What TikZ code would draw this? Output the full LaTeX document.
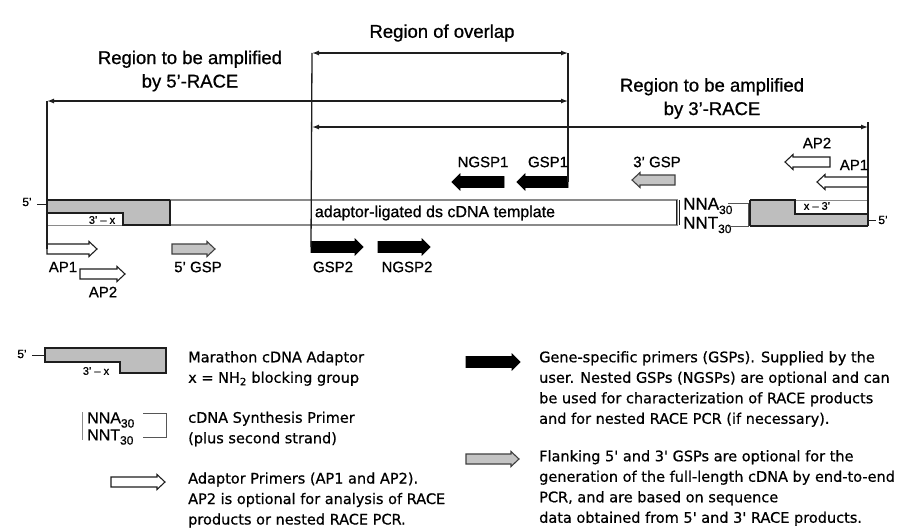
\documentclass[tikz,border=0pt]{standalone}
\usepackage{fontspec}
\setmainfont{Liberation Sans}[FakeBold=0.8]
\newfontfamily\legfont{DejaVu Sans}[FakeBold=0.6]
\usetikzlibrary{arrows.meta}
\definecolor{adgray}{HTML}{BEBEBE}
\definecolor{pgray}{HTML}{C4C4C4}
\definecolor{ink}{HTML}{1E1E1E}
\definecolor{tline}{HTML}{8A8A8A}
\newcommand\mysub[1]{\raisebox{-0.5ex}{\fontsize{12}{12}\selectfont #1}}
% right-pointing primer: name, x-tail, x-tip, y, half shaft, half head, style
\newcommand\rprim[7]{%
  \draw[#7] (#2,#4-#5) -- (#3-8,#4-#5) -- (#3-8,#4-#6) -- (#3,#4) -- (#3-8,#4+#6)
     -- (#3-8,#4+#5) -- (#2,#4+#5) -- cycle;
  \coordinate (#1-tail) at (#2,#4); \coordinate (#1-tip) at (#3,#4);}
% left-pointing primer: name, x-tail, x-tip, y, half shaft, half head, style
\newcommand\lprim[7]{%
  \draw[#7] (#2,#4-#5) -- (#3+8,#4-#5) -- (#3+8,#4-#6) -- (#3,#4) -- (#3+8,#4+#6)
     -- (#3+8,#4+#5) -- (#2,#4+#5) -- cycle;
  \coordinate (#1-tail) at (#2,#4); \coordinate (#1-tip) at (#3,#4);}
\begin{document}
\begin{tikzpicture}[x=1pt,y=-1pt,
  ln/.style={draw=ink, line width=1.3pt},
  dim/.style={draw=ink, line width=1.3pt, {Latex[length=7pt,width=5pt]}-{Latex[length=7pt,width=5pt]}},
  wp/.style={draw=ink, line width=1.1pt, fill=white, line join=miter},
  gp/.style={draw=ink!85, line width=1.1pt, fill=pgray, line join=miter},
  bp/.style={draw=black, line width=0.8pt, fill=black, line join=miter},
  big/.style={inner sep=0pt, align=center, font=\fontsize{18.5}{23.5}\selectfont},
  lab/.style={inner sep=0pt, font=\fontsize{15}{18}\selectfont},
  small/.style={inner sep=0pt, font=\fontsize{11}{12}\selectfont},
  legtext/.style={inner sep=0pt, anchor=west, align=left, font=\legfont\fontsize{14.5}{20.5}\selectfont},
  nn/.style={inner sep=0pt, anchor=west, font=\fontsize{17}{18}\selectfont}]
\useasboundingbox[fill=white] (0,0) rectangle (909,530);

% ---------- titles ----------
\node[big] (tover) at (442,33) {Region of overlap};
\node[big] (t5) at (190,71) {Region to be amplified\\by 5'-RACE};
\node[big] (t3) at (712,98.5) {Region to be amplified\\by 3'-RACE};

% ---------- dimension ends ----------
\coordinate (o1) at (312,53);
\coordinate (o2) at (568,53);
\coordinate (a1) at (47,101);
\coordinate (a2) at (568,101);
\coordinate (b1) at (312,127);
\coordinate (b2) at (868,127);

% ---------- template and adaptors ----------
\draw[tline, line width=1.2pt, fill=white] (170,200) rectangle (677,225);
\draw[tline, line width=0.8pt] (47,225) -- (123,225);
\draw[tline, line width=0.8pt] (795,200) -- (868,200);
\node[inner sep=0pt, font=\fontsize{16}{18}\selectfont] (tmpl) at (435,213) {adaptor-ligated ds cDNA template};
\draw[ink, line width=1pt] (676,200) -- (676,225);
\draw[ink, line width=1pt] (679.5,200) -- (679.5,225);

% left adaptor
\fill[adgray] (47,200) -- (170,200) -- (170,225) -- (123,225) -- (123,213) -- (47,213) -- cycle;
\draw[ink, line width=1.1pt] (47,200) -- (170,200);
\draw[ink, line width=1.1pt] (47,213) -- (123,213) -- (123,225) -- (170,225);
\draw[ink, line width=1.4pt] (170,199.5) -- (170,225.5);
\node[small] (l3x) at (102,220) {3' -- x};
\node[inner sep=0pt, font=\fontsize{12}{12}\selectfont] (l5) at (27,202) {5'};
\draw[ink, line width=1pt] (37,204) -- (47,204);

% right adaptor
\fill[adgray] (750,200) -- (795,200) -- (795,214) -- (868,214) -- (868,226) -- (750,226) -- cycle;
\draw[ink, line width=1.1pt] (750,200) -- (795,200) -- (795,214) -- (868,214);
\draw[ink, line width=1.1pt] (750,226) -- (868,226);
\draw[ink, line width=1.1pt] (750,200) -- (750,226);
\node[small] (rx3) at (817,206) {x -- 3'};
\draw[ink, line width=1pt] (868,220) -- (876,220);
\node[inner sep=0pt, font=\fontsize{12}{12}\selectfont] (r5) at (883,220) {5'};

% NNA / NNT bracket
\node[nn] (nna) at (683,206) {NNA\mysub{30}};
\node[nn] (nnt) at (683,225) {NNT\mysub{30}};
\draw[ink!75, line width=1pt] (728,203) -- (748,203) -- (748,226) -- (728,226);

% ---------- dimension arrows ----------
\draw[dim] (o1) -- (o2);
\draw[dim] (a1) -- (a2);
\draw[dim] (b1) -- (b2);

% ---------- primers ----------
\rprim{ap1L}{47}{97}{249}{5}{7.5}{wp}
\rprim{ap2L}{80}{125}{274}{5}{7.5}{wp}
\rprim{gsp5}{172}{215}{249}{5}{7.5}{gp}
\rprim{gsp2}{311}{363}{247}{5.5}{8}{bp}
\rprim{ngsp2}{378}{430}{247}{5.5}{8}{bp}
\lprim{ngsp1}{504}{452}{182}{5.5}{8}{bp}
\lprim{gsp1}{568}{517}{182}{5.5}{8}{bp}
\lprim{gsp3}{675}{632}{180}{5}{7.5}{gp}
\lprim{ap2R}{830}{785}{162}{5}{7.5}{wp}
\lprim{ap1R}{868}{817}{182}{5}{7.5}{wp}

% ---------- vertical connectors ----------
\draw[ln] (a1) -- (ap1L-tail);
\draw[ln] (o1) -- (gsp2-tail);
\draw[ln] (o2) -- (gsp1-tail);
\coordinate (b2top) at (868,122);
\coordinate (b2bot) at (868,226);
\draw[ln] (b2top) -- (b2bot);

% primer labels
\node[lab] (lap1) at (63,267) {AP1};
\node[lab] (lap2) at (103,292) {AP2};
\node[lab] (lgsp5) at (198,267) {5' GSP};
\node[lab] (lgsp2) at (333,267) {GSP2};
\node[lab] (lngsp2) at (407,267) {NGSP2};
\node[lab] (lngsp1) at (483,162) {NGSP1};
\node[lab] (lgsp1) at (548,162) {GSP1};
\node[lab] (lgsp3) at (657,162) {3' GSP};
\node[lab] (lap2r) at (817,143) {AP2};
\node[lab] (lap1r) at (854,165) {AP1};

% ---------- legend ----------
\fill[adgray] (45,348) -- (166,348) -- (166,373) -- (120,373) -- (120,362) -- (45,362) -- cycle;
\draw[ink, line width=1.1pt] (45,362) -- (45,348) -- (166,348) -- (166,373) -- (120,373) -- (120,362) -- cycle;
\node[inner sep=0pt, font=\fontsize{12}{12}\selectfont] (g5) at (22,354) {5'};
\draw[ink, line width=1pt] (32,355) -- (45,355);
\node[small] (g3x) at (96,371) {3' -- x};

\draw[tline, line width=1pt] (82,412) -- (82,440);
\node[nn, font=\fontsize{16}{17}\selectfont] (gnna) at (87,420) {NNA\mysub{30}};
\node[nn, font=\fontsize{16}{17}\selectfont] (gnnt) at (87,437) {NNT\mysub{30}};
\draw[ink!75, line width=1pt] (143,413) -- (166,413) -- (166,437) -- (143,437);

\rprim{legw}{111}{165}{482}{5}{7.5}{wp}
\rprim{legb}{466}{520}{362}{5.5}{8}{bp}
\rprim{legg}{466}{519}{459}{5}{7.5}{gp}

\node[legtext] (tmar) at (188,368.5) {Marathon cDNA Adaptor\\x = NH\textsubscript{2} blocking group};
\node[legtext] (tsyn) at (188,429) {cDNA Synthesis Primer\\(plus second strand)};
\node[legtext] (tap) at (188,500) {Adaptor Primers (AP1 and AP2).\\AP2 is optional for analysis of RACE\\products or nested RACE PCR.};
\node[legtext] (tgsp) at (539,389) {Gene-specific primers (GSPs). Supplied by the\\user. Nested GSPs (NGSPs) are optional and can\\be used for characterization of RACE products\\and for nested RACE PCR (if necessary).};
\node[legtext] (tfl) at (539,488) {Flanking 5' and 3' GSPs are optional for the\\generation of the full-length cDNA by end-to-end\\PCR, and are based on sequence\\data obtained from 5' and 3' RACE products.};
\end{tikzpicture}
\end{document}
